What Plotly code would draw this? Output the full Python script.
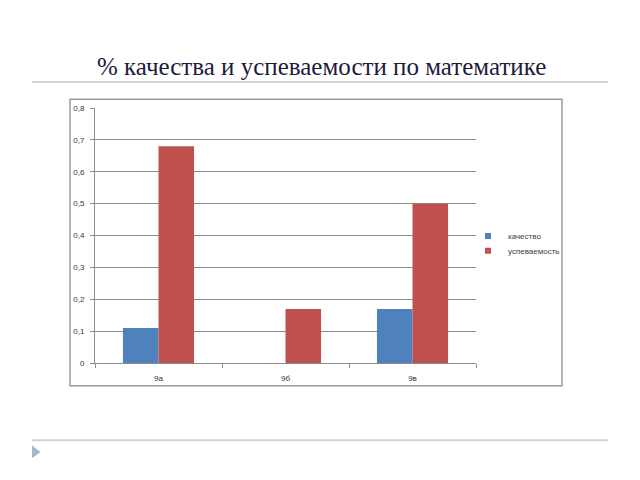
import plotly.graph_objects as go

categories = ["9а", "9б", "9в"]
quality = [0.11, 0, 0.17]
success = [0.68, 0.17, 0.5]
series_names = ["качество", "успеваемость"]
series_colors = ["#4F81BD", "#C0504D"]
y_tick_vals = [0, 0.1, 0.2, 0.3, 0.4, 0.5, 0.6, 0.7, 0.8]
y_tick_text = ["0", "0,1", "0,2", "0,3", "0,4", "0,5", "0,6", "0,7", "0,8"]
title_text = "% качества и успеваемости по математике"

W, H = 640, 480
def px(x):
    return x / W
def py(y):
    return 1 - y / H

fig = go.Figure()
fig.add_trace(go.Bar(x=categories, y=quality, name=series_names[0], showlegend=False,
                     marker=dict(color=series_colors[0], line=dict(width=0))))
fig.add_trace(go.Bar(x=categories, y=success, name=series_names[1], showlegend=False,
                     marker=dict(color=series_colors[1], line=dict(width=0))))
# legend entries (small square keys like the original)
fig.add_trace(go.Scatter(x=[None], y=[None], mode="markers", name=series_names[0],
                         marker=dict(symbol="square", size=6, color=series_colors[0]),
                         legend="legend"))
fig.add_trace(go.Scatter(x=[None], y=[None], mode="markers", name=series_names[1],
                         marker=dict(symbol="square", size=6, color=series_colors[1]),
                         legend="legend2"))

axis_col = "#8c8c8c"
leg_font = dict(family="Liberation Sans, Arial", size=8, color="#404040")
fig.update_layout(
    width=W, height=H,
    margin=dict(l=0, r=0, t=0, b=0),
    paper_bgcolor="white", plot_bgcolor="white",
    barmode="group", bargap=0.44, bargroupgap=0,
    showlegend=True,
    legend=dict(x=px(468), y=py(236.5), xanchor="left", yanchor="middle",
                font=leg_font, bgcolor="rgba(0,0,0,0)", itemwidth=30),
    legend2=dict(x=px(468), y=py(251.5), xanchor="left", yanchor="middle",
                 font=leg_font, bgcolor="rgba(0,0,0,0)", itemwidth=30),
    xaxis=dict(domain=[px(95), px(476)], showgrid=False,
               showline=True, linecolor=axis_col, linewidth=1,
               ticks="outside", tickson="boundaries", ticklen=4, tickcolor=axis_col,
               ticklabelstandoff=7,
               tickfont=dict(family="Liberation Sans, Arial", size=8, color="#333")),
    yaxis=dict(domain=[py(366), py(106)], range=[0, 0.8],
               tickvals=y_tick_vals, ticktext=y_tick_text,
               showgrid=True, gridcolor=axis_col, gridwidth=1,
               showline=True, linecolor=axis_col, linewidth=1,
               ticks="outside", ticklen=4, tickcolor=axis_col, zeroline=False,
               ticklabelstandoff=4,
               tickfont=dict(family="Liberation Sans, Arial", size=8, color="#333")),
    annotations=[dict(text=title_text, x=px(321), y=py(64), xref="paper", yref="paper",
                      xanchor="center", yanchor="middle", showarrow=False,
                      font=dict(family="Liberation Serif, Times New Roman", size=25, color="#1c1c3c"))],
    shapes=[
        dict(type="line", xref="paper", yref="paper", x0=px(32), x1=px(608), y0=py(79.5), y1=py(79.5),
             line=dict(color="#d4d4d4", width=2)),
        dict(type="line", xref="paper", yref="paper", x0=px(32), x1=px(608), y0=py(444.5), y1=py(444.5),
             line=dict(color="#d4d4d4", width=2)),
        dict(type="rect", xref="paper", yref="paper", x0=px(70), x1=px(562), y0=py(97), y1=py(389),
             line=dict(color="#9a9a9a", width=1.5), fillcolor="rgba(0,0,0,0)", layer="below"),
        dict(type="path", xref="paper", yref="paper",
             path=f"M {px(32)} {py(450)} L {px(40.5)} {py(456.5)} L {px(32)} {py(463)} Z",
             fillcolor="#a3b6cc", line=dict(width=0)),
    ],
)

fig.write_html("out.html")
